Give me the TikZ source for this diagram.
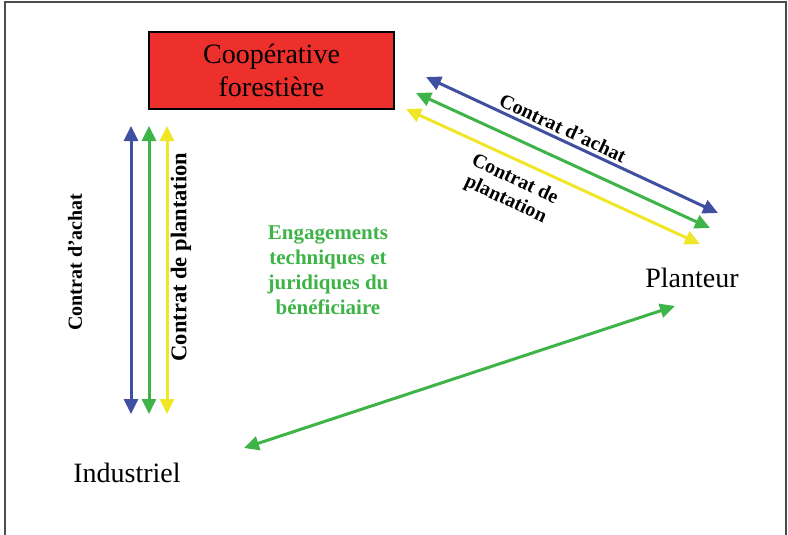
\documentclass[tikz,border=0pt]{standalone}
\usepackage{fontspec}
\setmainfont{Liberation Serif}
\usetikzlibrary{arrows.meta}

\definecolor{coopred}{RGB}{238,48,44}
\definecolor{achatblue}{RGB}{64,80,160}
\definecolor{engaggreen}{RGB}{62,180,72}
\definecolor{plantyellow}{RGB}{240,230,40}

\begin{document}
\begin{tikzpicture}[x=1pt,y=-1pt,
	fleche/.style={line width=3pt,{Triangle[length=15pt,width=14pt]}-{Triangle[length=15pt,width=14pt]}},
	etiquette/.style={font=\fontsize{20}{22}\selectfont\bfseries,align=center,inner sep=0pt},
	acteur/.style={font=\fontsize{28}{30}\selectfont,inner sep=0pt,anchor=base}]
	\useasboundingbox (0,0) rectangle (788,535);
	
	% Frame
	\draw[line width=1.2pt,black!70] (5,535) -- (5,2) -- (786,2) -- (786,535);
	
	% Actors
	\node[draw,line width=1.4pt,fill=coopred,minimum width=245pt,minimum height=77pt,
		font=\fontsize{28}{33}\selectfont,align=center] (coop) at (271.5,70.5) {Coopérative\\forestière};
	\node[acteur] (planteur) at (692,287) {Planteur};
	\node[acteur] (industriel) at (127,482) {Industriel};
	
	% Arrow ends
	\coordinate (ia) at (131,126);  \coordinate (ib) at (131,414);
	\coordinate (ja) at (149,126);  \coordinate (jb) at (149,414);
	\coordinate (ka) at (167,126);  \coordinate (kb) at (167,414);
	\coordinate (pa) at (426,77);   \coordinate (pb) at (718,213);
	\coordinate (qa) at (416,93);   \coordinate (qb) at (710,228);
	\coordinate (ra) at (406,109);  \coordinate (rb) at (700,244);
	\coordinate (sa) at (244,448);  \coordinate (sb) at (675,306);
	
	% Cooperative -- Industriel
	\draw[fleche,achatblue] (ia) -- (ib);
	\draw[fleche,engaggreen] (ja) -- (jb);
	\draw[fleche,plantyellow] (ka) -- (kb);
	
	% Cooperative -- Planteur
	\draw[fleche,achatblue] (pa) -- (pb);
	\draw[fleche,engaggreen] (qa) -- (qb);
	\draw[fleche,plantyellow] (ra) -- (rb);
	
	% Industriel -- Planteur
	\draw[fleche,engaggreen] (sa) -- (sb);
	
	% Labels
	\node[etiquette,rotate=90] (achat1) at (75,262) {Contrat d'achat};
	\node[etiquette,rotate=90,font=\fontsize{22.5}{24}\selectfont\bfseries] (plant1) at (181,257) {Contrat de plantation};
	\node[etiquette,rotate=-25] (achat2) at (563,128) {Contrat d'achat};
	\node[etiquette,rotate=-25] (plant2) at (510,190) {Contrat de\\plantation};
	\node[etiquette,text=engaggreen,font=\fontsize{21}{25}\selectfont\bfseries] (engag) at (328,270)
		{Engagements\\techniques et\\juridiques du\\bénéficiaire};
\end{tikzpicture}
\end{document}
